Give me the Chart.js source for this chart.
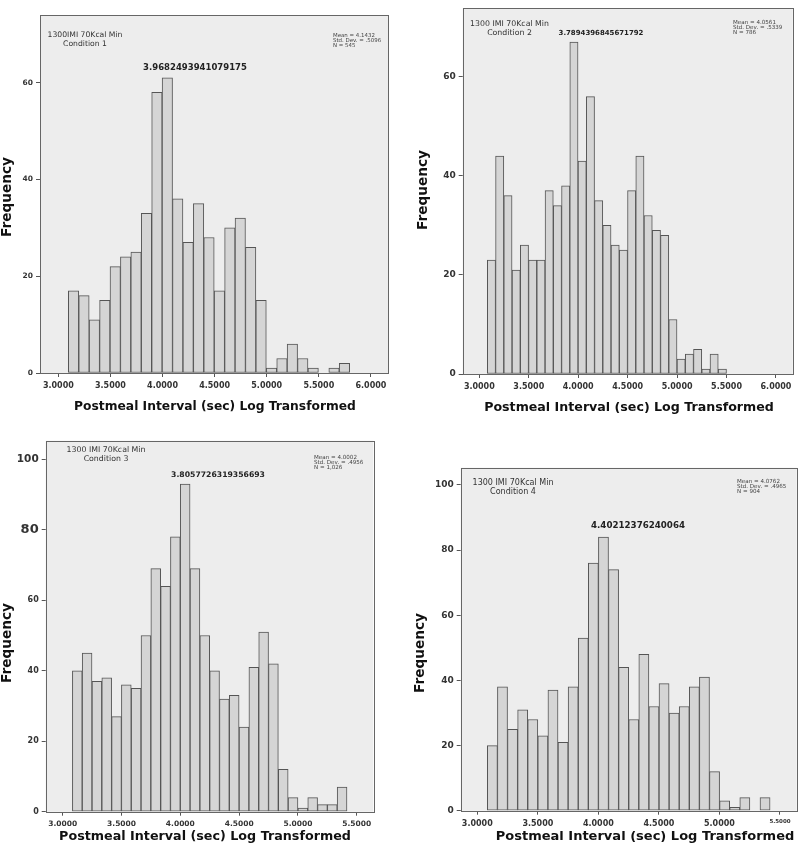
<!DOCTYPE html>
<html>
<head>
<meta charset="utf-8">
<script src="https://cdn.jsdelivr.net/npm/chart.js@4.4.0/dist/chart.umd.min.js"></script>
<style>
  body { margin: 0; background: #fff; }
  #wrap { position: relative; width: 800px; height: 855px; }
  canvas { position: absolute; }
</style>
</head>
<body>
<div id="wrap">
  <canvas id="c1"></canvas>
  <canvas id="c2"></canvas>
  <canvas id="c3"></canvas>
  <canvas id="c4"></canvas>
</div>
<script>
// frequencies per bin
const counts1 = [17, 16, 11, 15, 22, 24, 25, 33, 58, 61, 36, 27, 35, 28, 17, 30, 32, 26, 15, 1, 3, 6, 3, 1, 0, 1, 2];
const counts2 = [23, 44, 36, 21, 26, 23, 23, 37, 34, 38, 67, 43, 56, 35, 30, 26, 25, 37, 44, 32, 29, 28, 11, 3, 4, 5, 1, 4, 1];
const counts3 = [40, 45, 37, 38, 27, 36, 35, 50, 69, 64, 78, 93, 69, 50, 40, 32, 33, 24, 41, 51, 42, 12, 4, 1, 4, 2, 2, 7];
const counts4 = [20, 38, 25, 31, 28, 23, 37, 21, 38, 53, 76, 84, 74, 44, 28, 48, 32, 39, 30, 32, 38, 41, 12, 3, 1, 4, 0, 4];

// first bin edge and bin width of each histogram
const binStarts = [3.096, 3.081, 3.082, 3.083];
const binWidths = [0.1, 0.0834, 0.0834, 0.0834];

// axes
const xTicksWide = [3, 3.5, 4, 4.5, 5, 5.5, 6];
const xTicksNarrow = [3, 3.5, 4, 4.5, 5, 5.5];
const yTicksLow = [0, 20, 40, 60];
const yTicksHigh = [0, 20, 40, 60, 80, 100];
const xRanges = [[2.824, 6.164], [2.832, 6.169], [2.855, 5.641], [2.863, 5.638]];
const yMaxes = [74, 73.8, 105.3, 105.3];

// texts
const titles = ['1300IMI 70Kcal Min', '1300 IMI 70Kcal Min', '1300 IMI 70Kcal Min', '1300 IMI 70Kcal Min'];
const conditions = ['Condition 1', 'Condition 2', 'Condition 3', 'Condition 4'];
const peakLabels = ['3.9682493941079175', '3.7894396845671792', '3.8057726319356693', '4.40212376240064'];
const means = ['4.1432', '4.0561', '4.0002', '4.0762'];
const stdDevs = ['.5096', '.5339', '.4956', '.4965'];
const ns = ['545', '786', '1,026', '904'];
const xTitle = 'Postmeal Interval (sec) Log Transformed';
const yTitle = 'Frequency';

const FONT = '"DejaVu Sans", "Liberation Sans", sans-serif';

// where each panel sits and where its text goes
const panels = [
    { id: 'c1', left: 0, top: 0, w: 400, h: 420, area: [40, 15, 388, 373],
      title: [85, 35.5, 75], stats: [333, 36, 42], peak: [195, 68, 104],
      yT: [7, 197, 80], xT: [215, 407, 282], yTick: 7.5, xTick: 8 },
    { id: 'c2', left: 400, top: 0, w: 400, h: 420, area: [62.7, 5, 392.7, 374],
      title: [109.5, 23.5, 79], stats: [333, 22.5, 43], peak: [201, 33, 85],
      yT: [23, 190, 80], xT: [229, 408, 290], yTick: 9, xTick: 8 },
    { id: 'c3', left: 0, top: 420, w: 400, h: 435, area: [45.7, 20.7, 373.3, 391.7],
      title: [106, 29.5, 79], stats: [314, 38, 43], peak: [218, 55, 94],
      yT: [7, 223, 80], xT: [205, 417, 292], yTick: 8, xTick: 7.5 },
    { id: 'c4', left: 400, top: 420, w: 400, h: 435, area: [60.7, 47.7, 396.7, 390.7],
      title: [113, 62.5, 81], stats: [337, 61.5, 43], peak: [238, 106, 94],
      yT: [20, 233, 80], xT: [245, 417, 299], yTick: 9, xTick: 8 }
];

const allCounts = [counts1, counts2, counts3, counts4];
const allXTicks = [xTicksWide, xTicksWide, xTicksNarrow, xTicksNarrow];
const allYTicks = [yTicksLow, yTicksLow, yTicksHigh, yTicksHigh];

// sets font so text is targetW wide, returns the size used
function fitFont(ctx, text, targetW, weight) {
    ctx.font = `${weight} 10px ${FONT}`;
    const size = 10 * targetW / ctx.measureText(text).width;
    ctx.font = `${weight} ${size}px ${FONT}`;
    return size;
}

panels.forEach((p, i) => {
    const canvas = document.getElementById(p.id);
    canvas.width = p.w;
    canvas.height = p.h;
    canvas.style.left = p.left + 'px';
    canvas.style.top = p.top + 'px';

    const data = allCounts[i].map((v, k) => ({ x: binStarts[i] + binWidths[i] * (k + 0.5), y: v }));

    const decor = {
        id: 'decor' + i,
        beforeDatasetsDraw(chart) {
            const a = chart.chartArea, ctx = chart.ctx;
            ctx.save();
            ctx.fillStyle = '#ededed';
            ctx.fillRect(a.left, a.top, a.right - a.left, a.bottom - a.top);
            ctx.restore();
        },
        afterDatasetsDraw(chart) {
            const a = chart.chartArea, ctx = chart.ctx;
            ctx.save();
            ctx.strokeStyle = '#666';
            ctx.lineWidth = 1;
            ctx.strokeRect(Math.round(a.left) + 0.5, Math.round(a.top) + 0.5,
                Math.round(a.right - a.left), Math.round(a.bottom - a.top));

            ctx.textBaseline = 'middle';
            // panel title
            ctx.fillStyle = '#333';
            ctx.textAlign = 'center';
            fitFont(ctx, titles[i], p.title[2], 'normal');
            ctx.fillText(titles[i], p.title[0], p.title[1]);
            ctx.fillText(conditions[i], p.title[0], p.title[1] + 9);

            // stats box
            ctx.textAlign = 'left';
            ctx.fillStyle = '#444';
            const l1 = 'Mean = ' + means[i];
            fitFont(ctx, l1, p.stats[2], 'normal');
            ctx.fillText(l1, p.stats[0], p.stats[1]);
            ctx.fillText('Std. Dev. = ' + stdDevs[i], p.stats[0], p.stats[1] + 5);
            ctx.fillText('N = ' + ns[i], p.stats[0], p.stats[1] + 10);

            // label over the peak
            ctx.textAlign = 'center';
            ctx.fillStyle = '#222';
            fitFont(ctx, peakLabels[i], p.peak[2], 'bold');
            ctx.fillText(peakLabels[i], p.peak[0], p.peak[1]);

            // axis titles
            ctx.fillStyle = '#111';
            fitFont(ctx, xTitle, p.xT[2], 'bold');
            ctx.fillText(xTitle, p.xT[0], p.xT[1]);
            ctx.translate(p.yT[0], p.yT[1]);
            ctx.rotate(-Math.PI / 2);
            fitFont(ctx, yTitle, p.yT[2], 'bold');
            ctx.fillText(yTitle, 0, 0);
            ctx.restore();
        }
    };

    new Chart(canvas, {
        type: 'bar',
        data: {
            datasets: [{
                data: data,
                backgroundColor: '#d5d5d5',
                borderColor: '#555',
                borderWidth: 1,
                borderSkipped: false,
                barPercentage: 1,
                categoryPercentage: 1
            }]
        },
        options: {
            responsive: false,
            animation: false,
            devicePixelRatio: 1,
            layout: { padding: { left: 0, top: p.area[1], right: p.w - p.area[2], bottom: 0 } },
            plugins: { legend: { display: false }, tooltip: { enabled: false } },
            scales: {
                x: {
                    type: 'linear',
                    min: xRanges[i][0],
                    max: xRanges[i][1],
                    offset: false,
                    afterBuildTicks: s => { s.ticks = allXTicks[i].map(v => ({ value: v })); },
                    afterFit: s => { s.height = p.h - p.area[3]; },
                    border: { display: false },
                    grid: { drawOnChartArea: false, drawTicks: true, tickLength: 4, color: '#555', offset: false },
                    ticks: {
                        padding: 4,
                        color: '#333',
                        maxRotation: 0,
                        autoSkip: false,
                        callback: v => v.toFixed(4),
                        font: c => ({ family: FONT, weight: 'bold',
                            size: (i === 3 && c.tick && c.tick.value === 5.5) ? 5.5 : p.xTick })
                    }
                },
                y: {
                    min: 0,
                    max: yMaxes[i],
                    afterBuildTicks: s => { s.ticks = allYTicks[i].map(v => ({ value: v })); },
                    afterFit: s => { s.width = p.area[0]; },
                    border: { display: false },
                    grid: { drawOnChartArea: false, drawTicks: true, tickLength: 4, color: '#555' },
                    ticks: {
                        padding: 3,
                        color: '#333',
                        autoSkip: false,
                        font: c => {
                            let size = p.yTick;
                            if (i === 2 && c.tick && c.tick.value === 100) size = 10.5;
                            if (i === 2 && c.tick && c.tick.value === 80) size = 13;
                            return { family: FONT, weight: 'bold', size: size };
                        }
                    }
                }
            }
        },
        plugins: [decor]
    });
});
</script>
</body>
</html>
